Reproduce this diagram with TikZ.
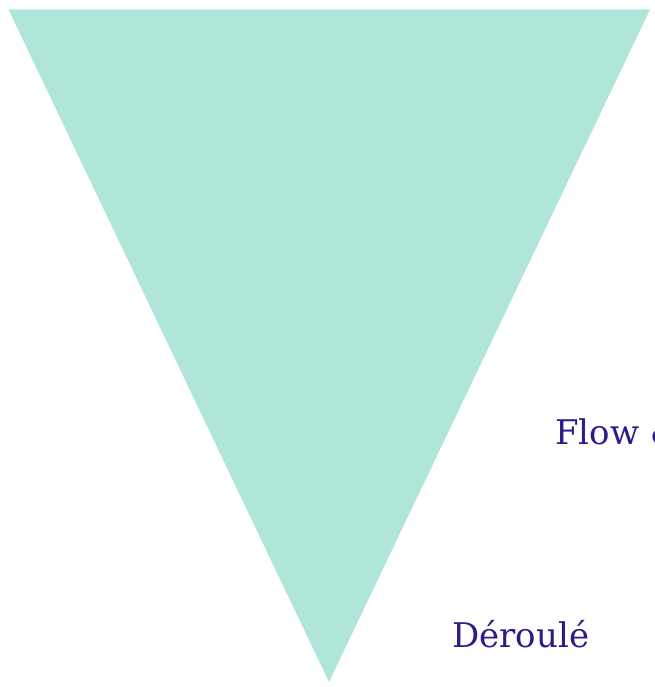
\documentclass[tikz,border=0pt]{standalone}
\usepackage{fontspec}
\setmainfont{DejaVu Serif}
\definecolor{funnel}{HTML}{B0E6D9}
\definecolor{labelc}{HTML}{2B1D87}
\begin{document}
\begin{tikzpicture}[x=1pt,y=-1pt,
  lbl/.style={anchor=base west,inner sep=0pt,text=labelc,font=\fontsize{34}{40}\selectfont}]
\useasboundingbox (0,0) rectangle (654,687);
\clip (0,0) rectangle (654,687);
\fill[funnel] (8.5,9.5) coordinate (tl) -- (650,9.5) coordinate (tr) -- (329,682) coordinate (bt) -- cycle;
\node[lbl] (flow) at (555,444) {Flow \&};
\node[lbl] (deroule) at (452,647) {Déroulé};
\end{tikzpicture}
\end{document}
